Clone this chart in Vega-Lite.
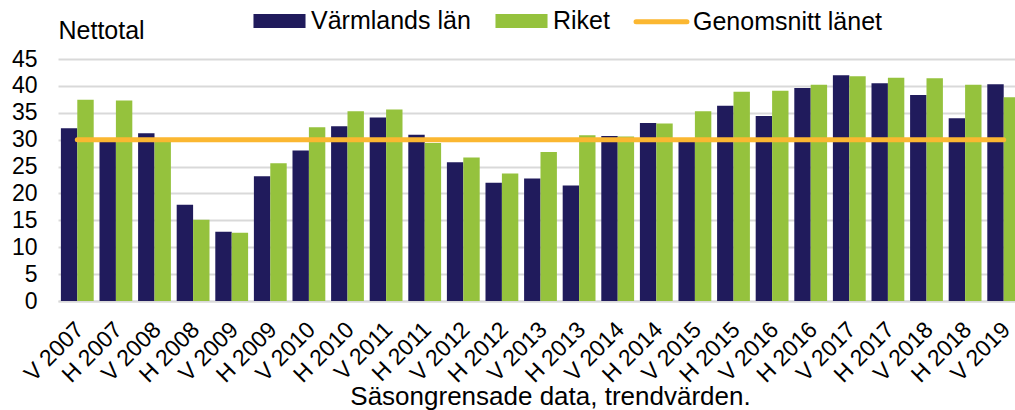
{
  "$schema": "https://vega.github.io/schema/vega-lite/v6.json",
  "autosize": {"type": "none"},
  "width": 965,
  "height": 242,
  "padding": {"left": 58, "top": 59, "right": 0, "bottom": 109},
  "background": "white",
  "config": {
    "font": "Liberation Sans",
    "view": {"stroke": null},
    "axis": {"labelColor": "black", "titleColor": "black", "titleFontWeight": "normal"},
    "legend": {"labelColor": "black"}
  },
  "datasets": {
    "bars": [
      {"period": "V 2007", "serie": "Värmlands län", "value": 32.1},
      {"period": "H 2007", "serie": "Värmlands län", "value": 30.0},
      {"period": "V 2008", "serie": "Värmlands län", "value": 31.2},
      {"period": "H 2008", "serie": "Värmlands län", "value": 17.9},
      {"period": "V 2009", "serie": "Värmlands län", "value": 12.9},
      {"period": "H 2009", "serie": "Värmlands län", "value": 23.2},
      {"period": "V 2010", "serie": "Värmlands län", "value": 28.0},
      {"period": "H 2010", "serie": "Värmlands län", "value": 32.5},
      {"period": "V 2011", "serie": "Värmlands län", "value": 34.1},
      {"period": "H 2011", "serie": "Värmlands län", "value": 30.9},
      {"period": "V 2012", "serie": "Värmlands län", "value": 25.8},
      {"period": "H 2012", "serie": "Värmlands län", "value": 22.0},
      {"period": "V 2013", "serie": "Värmlands län", "value": 22.8},
      {"period": "H 2013", "serie": "Värmlands län", "value": 21.5},
      {"period": "V 2014", "serie": "Värmlands län", "value": 30.7},
      {"period": "H 2014", "serie": "Värmlands län", "value": 33.1},
      {"period": "V 2015", "serie": "Värmlands län", "value": 29.9},
      {"period": "H 2015", "serie": "Värmlands län", "value": 36.3},
      {"period": "V 2016", "serie": "Värmlands län", "value": 34.4},
      {"period": "H 2016", "serie": "Värmlands län", "value": 39.6},
      {"period": "V 2017", "serie": "Värmlands län", "value": 42.0},
      {"period": "H 2017", "serie": "Värmlands län", "value": 40.5},
      {"period": "V 2018", "serie": "Värmlands län", "value": 38.3},
      {"period": "H 2018", "serie": "Värmlands län", "value": 34.0},
      {"period": "V 2019", "serie": "Värmlands län", "value": 40.3},
      {"period": "V 2007", "serie": "Riket", "value": 37.4},
      {"period": "H 2007", "serie": "Riket", "value": 37.3},
      {"period": "V 2008", "serie": "Riket", "value": 29.9},
      {"period": "H 2008", "serie": "Riket", "value": 15.1},
      {"period": "V 2009", "serie": "Riket", "value": 12.7},
      {"period": "H 2009", "serie": "Riket", "value": 25.6},
      {"period": "V 2010", "serie": "Riket", "value": 32.3},
      {"period": "H 2010", "serie": "Riket", "value": 35.3},
      {"period": "V 2011", "serie": "Riket", "value": 35.6},
      {"period": "H 2011", "serie": "Riket", "value": 29.4},
      {"period": "V 2012", "serie": "Riket", "value": 26.7},
      {"period": "H 2012", "serie": "Riket", "value": 23.7},
      {"period": "V 2013", "serie": "Riket", "value": 27.7},
      {"period": "H 2013", "serie": "Riket", "value": 30.8},
      {"period": "V 2014", "serie": "Riket", "value": 30.6},
      {"period": "H 2014", "serie": "Riket", "value": 33.0},
      {"period": "V 2015", "serie": "Riket", "value": 35.3},
      {"period": "H 2015", "serie": "Riket", "value": 38.9},
      {"period": "V 2016", "serie": "Riket", "value": 39.1},
      {"period": "H 2016", "serie": "Riket", "value": 40.2},
      {"period": "V 2017", "serie": "Riket", "value": 41.8},
      {"period": "H 2017", "serie": "Riket", "value": 41.5},
      {"period": "V 2018", "serie": "Riket", "value": 41.4},
      {"period": "H 2018", "serie": "Riket", "value": 40.2},
      {"period": "V 2019", "serie": "Riket", "value": 37.9}
    ],
    "snitt": [
      {"period": "V 2007", "value": 30},
      {"period": "H 2007", "value": 30},
      {"period": "V 2008", "value": 30},
      {"period": "H 2008", "value": 30},
      {"period": "V 2009", "value": 30},
      {"period": "H 2009", "value": 30},
      {"period": "V 2010", "value": 30},
      {"period": "H 2010", "value": 30},
      {"period": "V 2011", "value": 30},
      {"period": "H 2011", "value": 30},
      {"period": "V 2012", "value": 30},
      {"period": "H 2012", "value": 30},
      {"period": "V 2013", "value": 30},
      {"period": "H 2013", "value": 30},
      {"period": "V 2014", "value": 30},
      {"period": "H 2014", "value": 30},
      {"period": "V 2015", "value": 30},
      {"period": "H 2015", "value": 30},
      {"period": "V 2016", "value": 30},
      {"period": "H 2016", "value": 30},
      {"period": "V 2017", "value": 30},
      {"period": "H 2017", "value": 30},
      {"period": "V 2018", "value": 30},
      {"period": "H 2018", "value": 30},
      {"period": "V 2019", "value": 30}
    ]
  },
  "encoding": {
    "x": {
      "field": "period",
      "type": "nominal",
      "scale": {
        "domain": ["V 2007", "H 2007", "V 2008", "H 2008", "V 2009", "H 2009", "V 2010", "H 2010", "V 2011", "H 2011", "V 2012", "H 2012", "V 2013", "H 2013", "V 2014", "H 2014", "V 2015", "H 2015", "V 2016", "H 2016", "V 2017", "H 2017", "V 2018", "H 2018", "V 2019"],
        "paddingInner": 0.15,
        "paddingOuter": 0.075
      },
      "axis": {
        "labelAngle": -45,
        "labelAlign": "right",
        "labelBaseline": "top",
        "labelPadding": 17,
        "labelOffset": -5,
        "labelFontSize": 23,
        "labelOverlap": false,
        "ticks": false,
        "domainColor": "#d9d9d9",
        "domainWidth": 2,
        "title": "Säsongrensade data, trendvärden.",
        "titleFontSize": 26,
        "titleBaseline": "alphabetic",
        "titleY": 103,
        "titleX": 492
      }
    },
    "y": {
      "field": "value",
      "type": "quantitative",
      "scale": {"domain": [0, 45], "nice": false},
      "axis": {
        "values": [0, 5, 10, 15, 20, 25, 30, 35, 40, 45],
        "labelFontSize": 23,
        "labelPadding": 21,
        "labelOverlap": false,
        "ticks": false,
        "domain": false,
        "gridColor": "#d9d9d9",
        "gridWidth": 2,
        "title": "Nettotal",
        "titleAngle": 0,
        "titleAlign": "left",
        "titleBaseline": "alphabetic",
        "titleX": 0,
        "titleY": -21,
        "titleFontSize": 25
      }
    }
  },
  "layer": [
    {
      "data": {"name": "bars"},
      "mark": {"type": "bar"},
      "encoding": {
        "xOffset": {
          "field": "serie",
          "type": "nominal",
          "scale": {"domain": ["Värmlands län", "Riket"], "paddingInner": 0, "paddingOuter": 0}
        },
        "color": {
          "field": "serie",
          "type": "nominal",
          "scale": {
            "domain": ["Värmlands län", "Riket", "Genomsnitt länet"],
            "range": ["#201B5C", "#95C23D", "#FBB731"]
          },
          "legend": {
            "title": null,
            "orient": "none",
            "direction": "horizontal",
            "legendX": 195,
            "legendY": -65,
            "padding": 0,
            "symbolSize": 2304,
            "symbolStrokeWidth": 5,
            "labelFontSize": 25,
            "labelOffset": 5,
            "columnPadding": 16,
            "labelLimit": 400,
            "encode": {
              "symbols": {
                "update": {
                  "shape": {"signal": "datum.value === 'Genomsnitt länet' ? 'M-1.06,0H1.06' : 'M-0.98,-0.19H0.98V0.19H-0.98Z'"},
                  "fill": {"signal": "datum.value === 'Genomsnitt länet' ? 'transparent' : scale('color', datum.value)"},
                  "stroke": {"signal": "scale('color', datum.value)"},
                  "strokeCap": {"value": "round"},
                  "opacity": {"value": 1},
                  "fillOpacity": {"value": 1},
                  "strokeOpacity": {"value": 1}
                }
              }
            }
          }
        }
      }
    },
    {
      "data": {"name": "snitt"},
      "mark": {"type": "line", "strokeWidth": 5, "strokeCap": "round"},
      "encoding": {
        "color": {"datum": "Genomsnitt länet"}
      }
    }
  ]
}
